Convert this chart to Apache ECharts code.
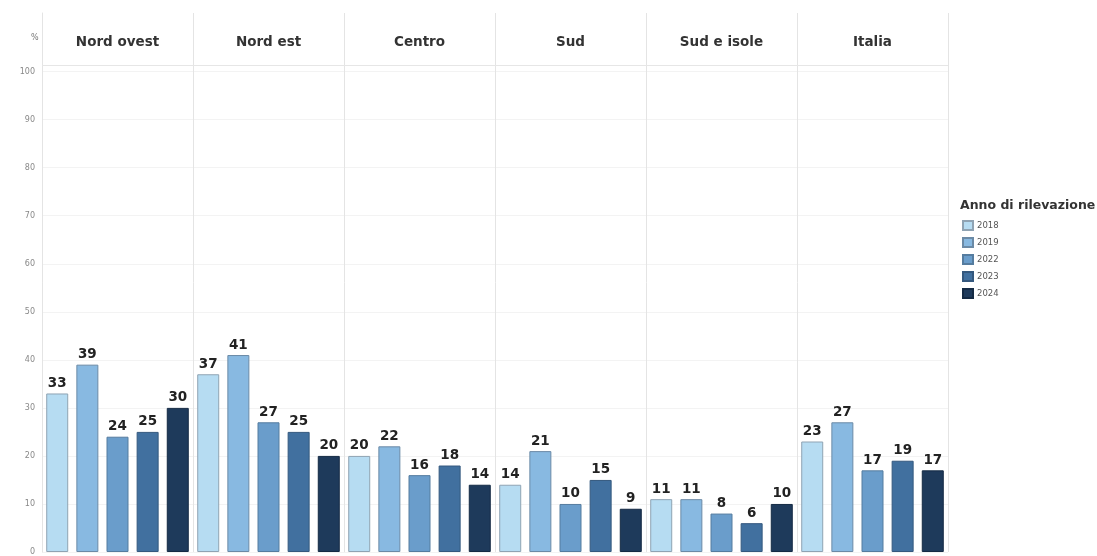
<!DOCTYPE html>
<html>
<head>
<meta charset="utf-8">
<script src="https://cdn.jsdelivr.net/npm/echarts@6/dist/echarts.min.js"></script>
<style>
html,body{margin:0;padding:0;background:#fff;}
#chart{width:1097px;height:556px;}
</style>
</head>
<body>
<div id="chart"></div>
<script>
const regions = ['Nord ovest', 'Nord est', 'Centro', 'Sud', 'Sud e isole', 'Italia'];
const years = ['2018', '2019', '2022', '2023', '2024'];
const v2018 = [33, 37, 20, 14, 11, 23];
const v2019 = [39, 41, 22, 21, 11, 27];
const v2022 = [24, 27, 16, 10, 8, 17];
const v2023 = [25, 25, 18, 15, 6, 19];
const v2024 = [30, 20, 14, 9, 10, 17];
const yTicks = [0, 10, 20, 30, 40, 50, 60, 70, 80, 90, 100];

const seriesValues = [v2018, v2019, v2022, v2023, v2024];
const colors = ['#b6dcf2', '#88b9e1', '#6a9dcb', '#41709f', '#1e3a5b'];
const borders = ['#8fa3b3', '#6b8aa6', '#557c9f', '#34587e', '#142a44'];
const FONT = '"DejaVu Sans", sans-serif';

const series = years.map((y, i) => ({
  name: y,
  type: 'bar',
  data: seriesValues[i],
  barWidth: 22,
  barGap: '37%',
  itemStyle: { color: colors[i], borderColor: borders[i], borderWidth: 1 },
  label: {
    show: true, position: 'top', distance: 3,
    fontFamily: FONT, fontWeight: 'bold', fontSize: 13.5, color: '#222'
  },
  markLine: i === 0 ? {
    silent: true, symbol: 'none', label: { show: false },
    lineStyle: { color: '#e6e6e6', width: 1, type: 'solid' },
    data: [{ yAxis: 101.4 }]
  } : undefined
}));

const gridColors = yTicks.map(() => '#f3f3f3').concat(['rgba(0,0,0,0)', 'rgba(0,0,0,0)', 'rgba(0,0,0,0)']);

const chart = echarts.init(document.getElementById('chart'), null, { renderer: 'canvas' });
chart.setOption({
  animation: false,
  backgroundColor: '#ffffff',
  title: [
    { text: '%', left: 26, top: 29, textStyle: { fontFamily: FONT, fontSize: 8, color: '#777', fontWeight: 'normal' } },
    { text: 'Anno di rilevazione', left: 955, top: 194, textStyle: { fontFamily: FONT, fontSize: 12.5, color: '#333', fontWeight: 'bold' } }
  ],
  legend: {
    orient: 'vertical', left: 957, top: 215,
    itemWidth: 10, itemHeight: 9, itemGap: 6,
    icon: 'rect',
    textStyle: { fontFamily: FONT, fontSize: 8.5, color: '#555', padding: [0, 0, 0, -1] },
    data: years
  },
  grid: { left: 42, right: 149, top: 13, bottom: 0, containLabel: false },
  xAxis: {
    type: 'category', data: regions, position: 'top',
    axisLine: { show: false }, axisTick: { show: false },
    splitLine: { show: true, lineStyle: { color: '#e4e4e4', width: 1 } },
    axisLabel: { inside: true, margin: 22, fontFamily: FONT, fontWeight: 'bold', fontSize: 13.5, color: '#333' }
  },
  yAxis: {
    type: 'value', min: 0, max: 112.2, interval: 10,
    axisLine: { show: true, lineStyle: { color: '#e4e4e4' } },
    axisTick: { show: false },
    splitLine: { show: true, lineStyle: { color: gridColors } },
    axisLabel: {
      margin: 7, fontFamily: FONT, fontSize: 8, color: '#888',
      formatter: v => (yTicks.indexOf(v) >= 0 ? String(v) : '')
    }
  },
  series: series
});
</script>
</body>
</html>
